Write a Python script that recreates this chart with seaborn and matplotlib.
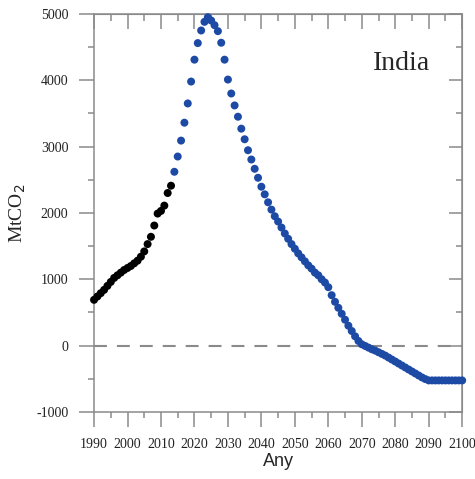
import matplotlib
matplotlib.use('Agg')
import pandas as pd
import matplotlib.pyplot as plt
import seaborn as sns
from matplotlib.ticker import MultipleLocator, FixedLocator, FixedFormatter

# Historical emissions (black dots)
hist_years = list(range(1990, 2014))
hist_co2 = [690, 740, 790, 840, 900, 960, 1020, 1060, 1100, 1140,
            1170, 1200, 1240, 1280, 1340, 1420, 1530, 1640, 1810, 1990,
            2030, 2110, 2300, 2410]

# Projected pathway (blue dots)
proj_years = list(range(2014, 2101))
proj_co2 = [2620, 2850, 3090, 3360, 3650, 3980, 4310, 4560, 4750, 4880, 4950,
            4900, 4830, 4740, 4565, 4310, 4010, 3800, 3620,
            3450, 3270, 3110, 2945, 2805, 2665, 2530, 2395, 2280, 2160, 2050,
            1950, 1870, 1780, 1690, 1610, 1530, 1460, 1390, 1330, 1270,
            1210, 1160, 1100, 1060, 1000, 950, 880,
            760, 660, 570, 480, 390, 300, 220, 140, 70, 20,
            -5, -30, -55, -75, -100, -125, -150, -180, -210, -240,
            -270, -300, -330, -360, -390, -420, -450, -480, -505, -525,
            -525, -525, -525, -525, -525, -525, -525, -525, -525, -525]

x_ticks = list(range(1990, 2101, 10))
y_ticks = [-1000, 0, 1000, 2000, 3000, 4000, 5000]
y_labels = [str(v) for v in y_ticks]

df = pd.concat([
    pd.DataFrame({'Any': hist_years, 'MtCO2': hist_co2, 'serie': 'hist'}),
    pd.DataFrame({'Any': proj_years, 'MtCO2': proj_co2, 'serie': 'proj'}),
])

sns.set_style('ticks')
plt.rcParams['font.family'] = ['Liberation Serif', 'DejaVu Serif']

grey = '#8a8a8a'
fig = plt.figure(figsize=(4.75, 4.79), dpi=100)
ax = fig.add_axes([0.198, 0.14, 0.775, 0.831])

ax.axhline(0, color=grey, lw=1.5, ls=(0, (6.2, 4.8)), zorder=1)
sns.scatterplot(data=df, x='Any', y='MtCO2', hue='serie',
                palette={'hist': 'black', 'proj': '#1d4aa5'},
                s=33, edgecolor='none', legend=False, ax=ax, zorder=3,
                clip_on=False)

ax.set_xlim(1990, 2100)
ax.set_ylim(-1000, 5000)
ax.xaxis.set_major_locator(FixedLocator(x_ticks))
ax.xaxis.set_minor_locator(MultipleLocator(5))
ax.yaxis.set_major_locator(FixedLocator(y_ticks))
ax.yaxis.set_major_formatter(FixedFormatter(y_labels))
ax.yaxis.set_minor_locator(MultipleLocator(500))

for s in ax.spines.values():
    s.set_color(grey)
    s.set_linewidth(1.1)

ax.tick_params(which='major', direction='out', length=10.5, width=1.1,
               color=grey, labelsize=10, labelcolor='#222222', pad=8)
ax.tick_params(which='minor', direction='out', length=4.5, width=1.1, color=grey)

# inward ticks on top and right
top = ax.secondary_xaxis('top')
top.xaxis.set_major_locator(FixedLocator(x_ticks))
top.xaxis.set_minor_locator(MultipleLocator(5))
top.tick_params(which='major', direction='in', length=11, width=1.1,
                color=grey, labeltop=False)
top.tick_params(which='minor', direction='in', length=5, width=1.1, color=grey)
top.spines['top'].set_color(grey)

right = ax.secondary_yaxis('right')
right.yaxis.set_major_locator(FixedLocator(y_ticks))
right.yaxis.set_minor_locator(MultipleLocator(500))
right.tick_params(which='major', direction='in', length=9.5, width=1.1,
                  color=grey, labelright=False)
right.tick_params(which='minor', direction='in', length=4.5, width=1.1, color=grey)
right.spines['right'].set_color(grey)

ax.set_xlabel('Any', family=['Liberation Sans', 'DejaVu Sans'], fontsize=13, labelpad=2)
ax.set_ylabel('MtCO$_2$', fontsize=14, labelpad=6)
ax.text(0.835, 0.86, 'India', transform=ax.transAxes, fontsize=20, ha='center')

fig.savefig('out.png', dpi=100)
